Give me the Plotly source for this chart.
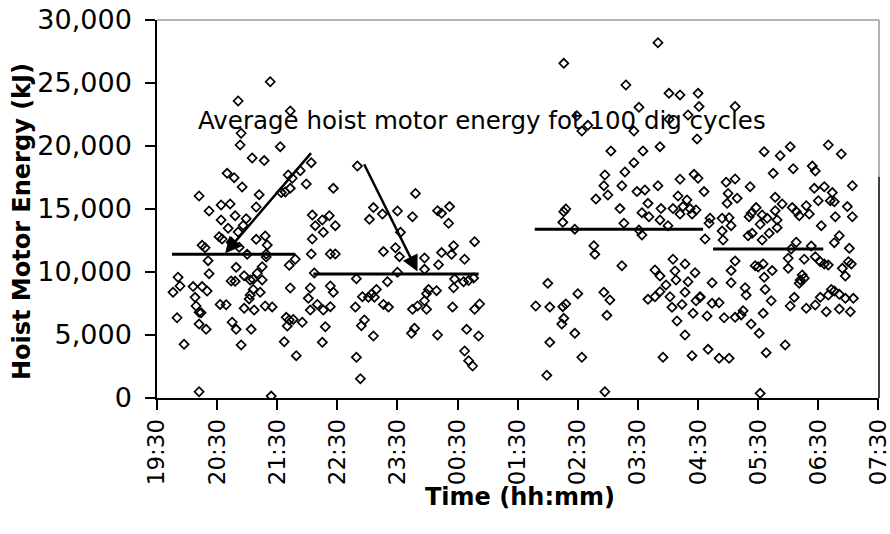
import plotly.graph_objects as go
import pandas as pd

# ---------------- data ----------------
shift_start = pd.Timestamp("2000-01-01 19:30")

# minutes elapsed since 19:30 for each dig cycle
elapsed_min = [
    113, 81, 133, 84, 83, 123, 95, 107, 70, 77, 85, 42, 102, 131, 135, 143, 154, 149, 176, 124,
    128, 133, 73, 64, 52, 78, 64, 71, 99, 89, 86, 81, 62, 65, 74, 99, 108, 110, 45, 48,
    82, 155, 165, 158, 172, 178, 166, 155, 173, 178, 154, 109, 90, 51, 138, 132, 79, 52, 105, 100,
    96, 105, 87, 93, 74, 78, 21, 23, 16, 36, 45, 50, 38, 96, 103, 93, 92, 133, 153, 173,
    176, 151, 160, 153, 166, 173, 63, 69, 39, 42, 44, 20, 87, 97, 108, 115, 129, 132, 136, 145,
    130, 42, 49, 75, 79, 94, 168, 27, 84, 127, 165, 139, 42, 114, 109, 157,
    200, 258, 216, 212, 225, 240, 255, 243, 280, 284, 292, 291, 317, 296, 284, 294, 307, 226, 238, 242,
    267, 267, 281, 240, 199, 230, 297, 296, 306, 311, 316, 219, 214, 205, 211, 217, 271, 269, 279, 226,
    231, 198, 255, 260, 267, 269, 295, 317, 322, 207, 204, 216, 257, 254, 280, 309, 321, 307, 311, 315,
    199, 203,
    406, 468, 511, 522, 540, 481, 430, 424, 476, 419, 511, 530, 539, 502, 485, 453, 476, 467, 447, 446,
    464, 450, 438, 479, 487, 500, 522, 536, 540, 520, 529, 538, 532, 525, 515, 522, 534, 490, 503, 484,
    491, 502, 510, 462, 406, 408, 405, 417, 466, 481, 484, 436, 437, 464, 390, 378, 392, 405, 408, 420,
    406, 404, 417, 392, 424, 389, 446, 452, 449, 447, 515, 527, 537, 497, 502, 517, 518, 530, 508, 502,
    497, 490, 512, 527, 538, 542, 514, 524, 535, 519, 527, 505, 534, 500,
    541, 577, 606, 622, 632, 670, 683, 615, 635, 654, 657, 546, 568, 577, 592, 570, 579, 569, 617, 624,
    634, 638, 641, 648, 651, 656, 660, 666, 674, 672, 676, 689, 694, 677, 694, 663, 598, 593, 591, 604,
    609, 617, 619, 602, 611, 619, 604, 590, 594, 552, 551, 564, 571, 573, 564, 565, 547, 638, 633, 653,
    676, 681, 691, 690, 693, 684, 687, 577, 573, 597, 605, 614, 606, 600, 630, 630, 646, 657, 662, 666,
    670, 644, 642, 646, 641, 573, 554, 587, 588, 607, 613, 542, 554, 561, 549, 566, 577, 583, 585, 593,
    601, 605, 636, 632, 648, 657, 662, 668, 670, 673, 676, 681, 687, 695, 681, 692, 550, 561, 571, 608,
    627, 602,
]

# hoist motor energy per dig cycle (kJ)
energy_kj = [
    25100, 23570, 22780, 21010, 20080, 19950, 19050, 18840, 17830, 17490, 16750, 16030, 16140, 17700, 17440, 18040, 18680, 16990, 16640, 16300,
    16350, 16640, 15400, 15320, 14840, 14470, 14130, 13470, 15160, 14230, 13700, 13170, 12800, 12620, 12360, 12590, 12860, 12140, 12120, 11930,
    11960, 14520, 14130, 13680, 14470, 13680, 13150, 12620, 11430, 11430, 11430, 11430, 11400, 10900, 11010, 10530, 10370, 9870, 10420, 9900,
    9420, 9370, 9710, 9370, 9290, 9260, 9580, 8890, 8390, 8840, 8840, 8490, 7990, 8620, 8390, 8170, 7860, 8730, 8730, 8890,
    8390, 7910, 7430, 6980, 6980, 7250, 7430, 7400, 7300, 6800, 6770, 6370, 7120, 6980, 7300, 7230, 6400, 6190, 6240, 6010,
    5710, 5870, 5450, 6010, 5450, 5450, 5660, 4260, 4210, 4470, 4420, 3360, 500, 150, 11190, 9920,
    18410, 16240, 15110, 14180, 14600, 14840, 14390, 13150, 14870, 14660, 15190, 13870, 12410, 12090, 11540, 11400, 11010, 11620, 11930, 11220,
    11110, 10210, 10580, 9980, 9470, 9230, 9440, 8750, 9230, 9330, 9520, 8620, 8230, 8040, 8000, 8000, 8620, 8280, 8520, 7430,
    7220, 7220, 7040, 7300, 7720, 7040, 7220, 7040, 7460, 6190, 5740, 4920, 5530, 5130, 5000, 5450, 4920, 3730, 2960, 2540,
    3230, 1530,
    26560, 24840, 24180, 24050, 24180, 23070, 21640, 21190, 21190, 22400, 22120, 22460, 20560, 19950, 19600, 19600, 18680, 17940, 17700, 16850,
    16850, 16110, 15790, 16380, 16510, 16850, 17360, 17750, 17440, 16030, 15720, 14920, 15030, 15190, 15030, 14600, 14600, 15450, 15030, 14710,
    14390, 14130, 13680, 15030, 14790, 15000, 13940, 13400, 13870, 13330, 12940, 12090, 11400, 10500, 9100, 7300, 7220, 7250, 7460, 8280,
    6320, 5870, 5130, 4420, 3230, 1800, 8390, 7780, 6560, 500, 11010, 10640, 9950, 10160, 9680, 10080, 9370, 9230, 8970, 8440,
    8040, 7830, 8040, 8390, 7720, 8040, 7200, 7430, 6720, 6110, 5000, 3230, 3360, 28200,
    23130, 23130, 19550, 19230, 19950, 20080, 19370, 17830, 18200, 18410, 18020, 16380, 17120, 17380, 16770, 16240, 15850, 15450, 15930, 15400,
    15110, 14800, 14470, 15260, 14600, 16640, 15660, 16770, 16300, 15660, 15580, 15190, 16850, 14390, 14390, 13680, 15110, 14660, 14390, 14530,
    14260, 14870, 14130, 13790, 13070, 13520, 12540, 12880, 13070, 14260, 13870, 14260, 14310, 13680, 13250, 12540, 12620, 12360, 11830, 12060,
    12330, 12880, 11880, 10820, 10640, 10290, 9680, 10870, 10110, 10500, 10640, 10110, 9580, 10400, 11090, 10290, 11010, 11220, 10820, 10640,
    10560, 9760, 9370, 9510, 9100, 9150, 9150, 8750, 8170, 8620, 7720, 7990, 7510, 7560, 6510, 6370, 6400, 6590, 6930, 5870,
    5130, 6720, 7990, 7300, 7120, 7380, 7990, 6850, 8170, 8620, 8500, 8230, 7910, 7910, 7060, 6850, 3860, 3150, 3150, 3600,
    4210, 370,
]

# average energy over blocks of 100 dig cycles
avg_start_min = [15, 156, 377, 555]
avg_end_min = [138, 321, 545, 665]
avg_energy_kj = [11400, 9850, 13390, 11830]

# arrows (tail -> head), minutes / kJ
arrow_tail_min = [155, 206]
arrow_tail_kj = [19550, 18670]
arrow_head_min = [68, 260]
arrow_head_kj = [11480, 10030]

label_min = 324
label_kj = 22000
label_text = "Average hoist motor energy fot 100 dig cycles"

tick_hours = 13  # 19:30 ... 07:30

# ---------------- figure ----------------
def t(m):
    return shift_start + pd.Timedelta(minutes=m)

times = [t(m) for m in elapsed_min]

FONT = "DejaVu Sans"

fig = go.Figure()

fig.add_trace(go.Scatter(
    x=times, y=energy_kj, mode="markers",
    marker=dict(symbol="diamond-open", size=7, color="black", line=dict(width=1.7, color="black")),
    showlegend=False, hoverinfo="x+y",
))

lx, ly = [], []
for s, e, v in zip(avg_start_min, avg_end_min, avg_energy_kj):
    lx += [t(s), t(e), None]
    ly += [v, v, None]
fig.add_trace(go.Scatter(x=lx, y=ly, mode="lines", line=dict(color="black", width=3),
                         showlegend=False, hoverinfo="skip"))

annotations = []
for tm, tk, hm, hk in zip(arrow_tail_min, arrow_tail_kj, arrow_head_min, arrow_head_kj):
    annotations.append(dict(
        x=t(hm), y=hk, ax=t(tm), ay=tk, xref="x", yref="y", axref="x", ayref="y",
        text="", showarrow=True, arrowhead=2, arrowsize=1.3, arrowwidth=2.5, arrowcolor="black",
        standoff=0, startstandoff=0,
    ))

annotations.append(dict(
    x=t(label_min), y=label_kj, xref="x", yref="y", text=label_text, showarrow=False,
    font=dict(family=FONT, size=24.5, color="black"), xanchor="center", yanchor="middle",
))

annotations.append(dict(
    x=-0.187, y=0.468, xref="paper", yref="paper", text="<b>Hoist Motor Energy (kJ)</b>",
    textangle=-90, showarrow=False, font=dict(family=FONT, size=24, color="black"),
    xanchor="center", yanchor="middle",
))
annotations.append(dict(
    x=0.503, y=-0.263, xref="paper", yref="paper", text="<b>Time (hh:mm)</b>",
    showarrow=False, font=dict(family=FONT, size=24, color="black"),
    xanchor="center", yanchor="middle",
))

tickvals = [t(60 * i) for i in range(tick_hours)]

fig.update_layout(
    width=890, height=534,
    margin=dict(l=157, r=11, t=20, b=136, autoexpand=False),
    paper_bgcolor="white", plot_bgcolor="white",
    font=dict(family=FONT, color="black"),
    annotations=annotations,
    shapes=[
        dict(type="line", xref="paper", yref="paper", x0=0, x1=1, y0=1, y1=1,
             line=dict(color="#9a9a9a", width=1.5)),
        dict(type="line", xref="paper", yref="paper", x0=1, x1=1, y0=0.585, y1=1,
             line=dict(color="#9a9a9a", width=1.5)),
        dict(type="line", xref="paper", yref="paper", x0=1, x1=1, y0=0, y1=0.585,
             line=dict(color="black", width=1.5)),
    ],
    xaxis=dict(
        type="date", range=[t(0), t(60 * (tick_hours - 1) + 0.6)],
        tickmode="array", tickvals=tickvals, tickformat="%H:%M", tickangle=-90,
        tickfont=dict(family=FONT, size=23, color="black"),
        ticklabeloverflow="allow", automargin=False,
        ticks="outside", ticklen=10, tickwidth=1.5, tickcolor="black",
        showline=True, linecolor="black", linewidth=1.5, showgrid=False, zeroline=False,
    ),
    yaxis=dict(
        range=[0, 30000], tickmode="linear", tick0=0, dtick=5000, tickformat=",",
        tickfont=dict(family=FONT, size=27, color="black"),
        ticks="outside", ticklen=10, tickwidth=1.5, tickcolor="black",
        ticklabelstandoff=8, automargin=False,
        showline=True, linecolor="black", linewidth=1.5, showgrid=False, zeroline=False,
    ),
)

fig.write_html("out.html")
